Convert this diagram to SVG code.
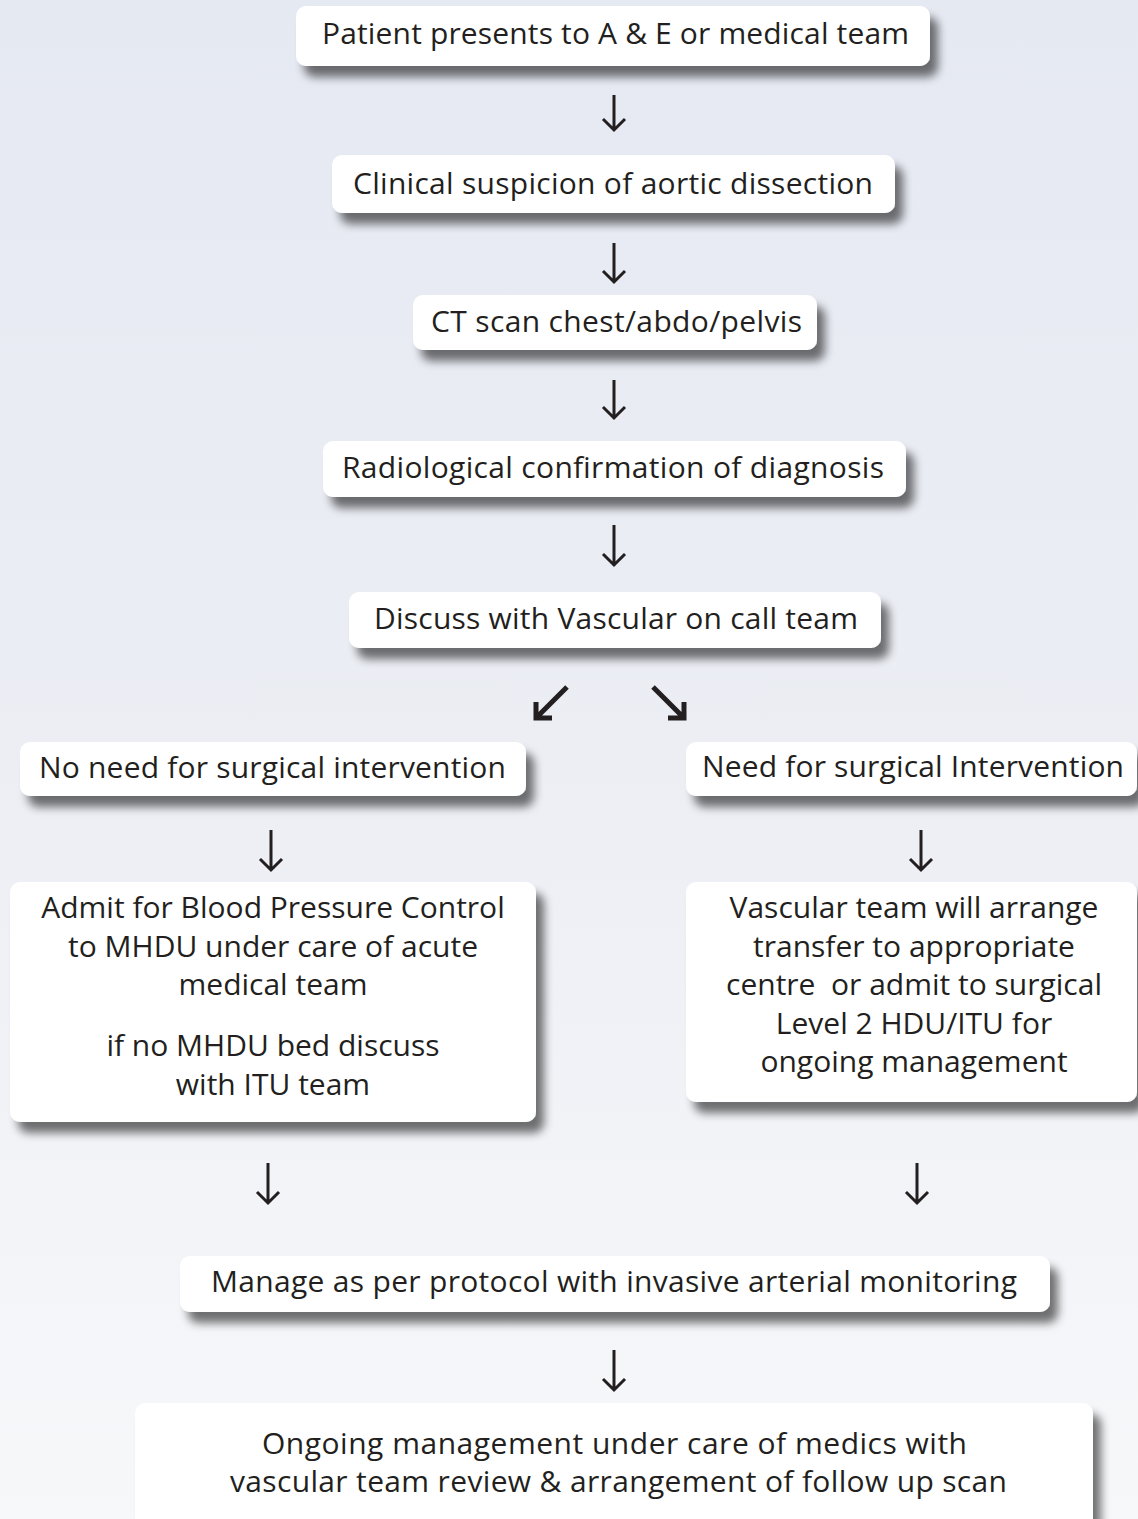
<svg xmlns="http://www.w3.org/2000/svg" width="1138" height="1519" viewBox="0 0 1138 1519">
<defs>
<linearGradient id="bg" x1="0" y1="0" x2="0" y2="1">
<stop offset="0" stop-color="#e5e9f2"/>
<stop offset="0.5" stop-color="#eceef4"/>
<stop offset="1" stop-color="#f7f8fa"/>
</linearGradient>
<filter id="sh" x="-10%" y="-30%" width="130%" height="180%">
<feGaussianBlur in="SourceAlpha" stdDeviation="5"/>
<feOffset dx="8" dy="11" result="b"/>
<feComponentTransfer><feFuncA type="linear" slope="0.55"/></feComponentTransfer>
<feMerge><feMergeNode/><feMergeNode in="SourceGraphic"/></feMerge>
</filter>
<style>
.box{fill:#ffffff;filter:url(#sh)}
.t{font-family:"Open Sans",Lato,"Liberation Sans",sans-serif;font-size:30px;fill:#231f20;text-anchor:middle}
.a{fill:none;stroke:#231f20;stroke-width:3}
.d{fill:none;stroke:#231f20;stroke-width:5}
</style>
</defs>
<rect width="1138" height="1519" fill="url(#bg)"/>
<g id="connectors">
<path class="a" d="M614 95V130M603 119L614 130L625 119"/>
<path class="a" d="M614 243V282M603 271L614 282L625 271"/>
<path class="a" d="M614 380V418M603 407L614 418L625 407"/>
<path class="a" d="M614 525V565M603 554L614 565L625 554"/>
<path class="d" d="M567 687L536 718M536 702V718H552"/>
<path class="d" d="M653 687L684 718M684 702V718H668"/>
<path class="a" d="M271 830V870M260 859L271 870L282 859"/>
<path class="a" d="M921 830V870M910 859L921 870L932 859"/>
<path class="a" d="M268 1163V1203M257 1192L268 1203L279 1192"/>
<path class="a" d="M917 1163V1203M906 1192L917 1203L928 1192"/>
<path class="a" d="M614 1350V1390M603 1379L614 1390L625 1379"/>
</g>
<g id="n1"><rect class="box" x="296" y="6" width="634" height="60" rx="10"/><text class="t" x="615.5" y="44" textLength="587">Patient presents to A &amp; E or medical team</text></g>
<g id="n2"><rect class="box" x="332" y="155" width="563" height="58" rx="10"/><text class="t" x="613" y="194" textLength="520">Clinical suspicion of aortic dissection</text></g>
<g id="n3"><rect class="box" x="413" y="295" width="404" height="55" rx="10"/><text class="t" x="616.5" y="332" textLength="371">CT scan chest/abdo/pelvis</text></g>
<g id="n4"><rect class="box" x="323" y="441" width="583" height="56" rx="10"/><text class="t" x="613" y="478" textLength="542">Radiological confirmation of diagnosis</text></g>
<g id="n5"><rect class="box" x="349" y="592" width="532" height="56" rx="10"/><text class="t" x="616" y="629" textLength="484">Discuss with Vascular on call team</text></g>
<g id="n6"><rect class="box" x="20" y="742" width="506" height="54" rx="10"/><text class="t" x="272.5" y="778" textLength="467">No need for surgical intervention</text></g>
<g id="n7"><rect class="box" x="686" y="742" width="451" height="54" rx="10"/><text class="t" x="913" y="777" textLength="422">Need for surgical Intervention</text></g>
<g id="n8"><rect class="box" x="10" y="882" width="526" height="240" rx="10"/>
<text class="t" x="273"><tspan x="273" y="918">Admit for Blood Pressure Control</tspan><tspan x="273" y="957">to MHDU under care of acute</tspan><tspan x="273" y="995">medical team</tspan><tspan x="273" y="1056">if no MHDU bed discuss</tspan><tspan x="273" y="1095">with ITU team</tspan></text></g>
<g id="n9"><rect class="box" x="686" y="882" width="451" height="220" rx="10"/>
<text class="t" x="914"><tspan x="914" y="918">Vascular team will arrange</tspan><tspan x="914" y="957">transfer to appropriate</tspan><tspan x="914" y="995">centre&#160; or admit to surgical</tspan><tspan x="914" y="1034">Level 2 HDU/ITU for</tspan><tspan x="914" y="1072">ongoing management</tspan></text></g>
<g id="n10"><rect class="box" x="180" y="1256" width="870" height="56" rx="10"/><text class="t" x="614" y="1292" textLength="806">Manage as per protocol with invasive arterial monitoring</text></g>
<g id="n11"><rect class="box" x="135" y="1403" width="958" height="140" rx="10"/>
<text class="t" x="614.5" y="1454" textLength="705">Ongoing management under care of medics with</text>
<text class="t" x="618.5" y="1492" textLength="777">vascular team review &amp; arrangement of follow up scan</text></g>
</svg>
